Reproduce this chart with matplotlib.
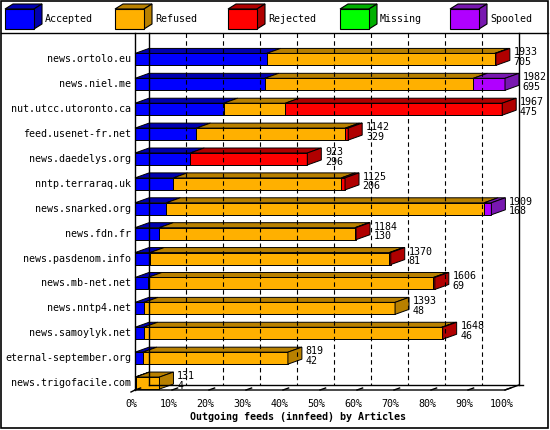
import matplotlib
matplotlib.use("Agg")
import matplotlib.pyplot as plt
from matplotlib.patches import Polygon, Rectangle

hosts = ["news.ortolo.eu", "news.niel.me", "nut.utcc.utoronto.ca", "feed.usenet-fr.net",
         "news.daedelys.org", "nntp.terraraq.uk", "news.snarked.org", "news.fdn.fr",
         "news.pasdenom.info", "news.mb-net.net", "news.nntp4.net", "news.samoylyk.net",
         "eternal-september.org", "news.trigofacile.com"]
accepted = [705, 695, 475, 329, 296, 206, 168, 130, 81, 69, 48, 46, 42, 4]
refused = [1222, 1117, 330, 798, 0, 899, 1702, 1048, 1281, 1529, 1345, 1597, 777, 127]
rejected = [6, 0, 1162, 15, 627, 20, 0, 6, 8, 8, 0, 5, 0, 0]
missing = [0] * 14
spooled = [0, 170, 0, 0, 0, 0, 39, 0, 0, 0, 0, 0, 0, 0]
totals = [1933, 1982, 1967, 1142, 923, 1125, 1909, 1184, 1370, 1606, 1393, 1648, 819, 131]

series = ["Accepted", "Refused", "Rejected", "Missing", "Spooled"]
front = ["#0000ff", "#ffb000", "#ff0000", "#00ff00", "#b000ff"]
dark = ["#0000b0", "#b88000", "#b00000", "#00b000", "#7818b0"]

W, H = 550, 430
fig = plt.figure(figsize=(5.5, 4.3), dpi=100)
fig.patch.set_facecolor("white")
mono = "DejaVu Sans Mono"
fs = 7.2

# overlay in pixel coordinates for frame and legend
ov = fig.add_axes([0, 0, 1, 1])
ov.set_xlim(0, W)
ov.set_ylim(H, 0)
ov.axis("off")
ov.add_patch(Rectangle((1, 1), W - 3, H - 3, fill=False, ec="black", lw=1.2))
ov.plot([1, W - 2], [33, 33], color="black", lw=1)
leg_x = [5, 115, 228, 340, 450]
for i, name in enumerate(series):
    x0 = leg_x[i]
    ov.add_patch(Polygon([(x0, 9), (x0 + 8, 4), (x0 + 37, 4), (x0 + 29, 9)], fc=dark[i], ec="black", lw=0.8))
    ov.add_patch(Polygon([(x0 + 29, 9), (x0 + 37, 4), (x0 + 37, 24), (x0 + 29, 29)], fc=dark[i], ec="black", lw=0.8))
    ov.add_patch(Rectangle((x0, 9), 29, 20, fc=front[i], ec="black", lw=0.8))
    ov.text(x0 + 40, 19, name, fontsize=fs, family=mono, va="center")

# plot area: 135..505 px wide, 40..397 px tall
ax = fig.add_axes([135 / W, 1 - 397 / H, 370 / W, 357 / H])
ax.set_xlim(0, 100)
ax.set_ylim(13.56, -0.78)
ax.axis("off")

px_x = 100 / 370.0
px_y = 14.34 / 357.0
dx = 14 * px_x
dy = 5 * px_y
bh = 12 * px_y
vmax = max(totals)

floor_y = 13.56 - 7 * px_y
back_y = floor_y - dy
top_y = -0.78 - 7 * px_y
# back wall and grid
ax.plot([dx, dx], [top_y, back_y], color="black", lw=1, clip_on=False)
ax.plot([100 + dx, 100 + dx], [top_y, back_y], color="black", lw=1, clip_on=False)
ax.plot([0, 0], [top_y, floor_y], color="black", lw=1, clip_on=False)
for k in range(1, 10):
    ax.plot([k * 10 + dx] * 2, [top_y, back_y], color="black", lw=0.8, ls=(0, (4, 3)), clip_on=False)
ax.plot([dx, 100 + dx + 4 * px_x], [back_y, back_y], color="black", lw=1, clip_on=False)
ax.plot([-4 * px_x, 0, 100, 100 + dx], [floor_y + 2 * px_y, floor_y, floor_y, back_y],
        color="black", lw=1, clip_on=False)
for k in range(11):
    ax.plot([k * 10, k * 10 + dx * 0.4], [floor_y, floor_y - dy * 0.4], color="black", lw=1, clip_on=False)
    ax.text(k * 10 - 1, floor_y + 14 * px_y, f"{k * 10}%", fontsize=fs, family=mono, ha="center", va="center")
ax.text(44, floor_y + 27 * px_y, "Outgoing feeds (innfeed) by Articles", fontsize=fs, family=mono,
        weight="bold", ha="center", va="center")

for i, host in enumerate(hosts):
    yc = i
    top, bot = yc - bh / 2, yc + bh / 2
    vals = [accepted[i], refused[i], rejected[i], missing[i], spooled[i]]
    x0 = 0.0
    last = None
    for j, v in enumerate(vals):
        if v <= 0:
            continue
        x1 = x0 + v / vmax * 100
        ax.add_patch(Polygon([(x0, top), (x0 + dx, top - dy), (x1 + dx, top - dy), (x1, top)],
                             fc=dark[j], ec="black", lw=0.7, clip_on=False))
        ax.add_patch(Rectangle((x0, top), x1 - x0, bh, fc=front[j], ec="black", lw=0.7, clip_on=False))
        last = (j, x1)
        x0 = x1
    j, x1 = last
    ax.add_patch(Polygon([(x1, top), (x1 + dx, top - dy), (x1 + dx, bot - dy), (x1, bot)],
                         fc=dark[j], ec="black", lw=0.7, clip_on=False))
    ax.text(x1 + dx + 1, top - dy - 1 * px_y, f"{totals[i]}\n{accepted[i]}", fontsize=fs, family=mono,
            va="top", ha="left", linespacing=0.95)
    ax.text(-4 * px_x, yc, host, fontsize=fs, family=mono, ha="right", va="center")

fig.savefig("out.png", dpi=100)
